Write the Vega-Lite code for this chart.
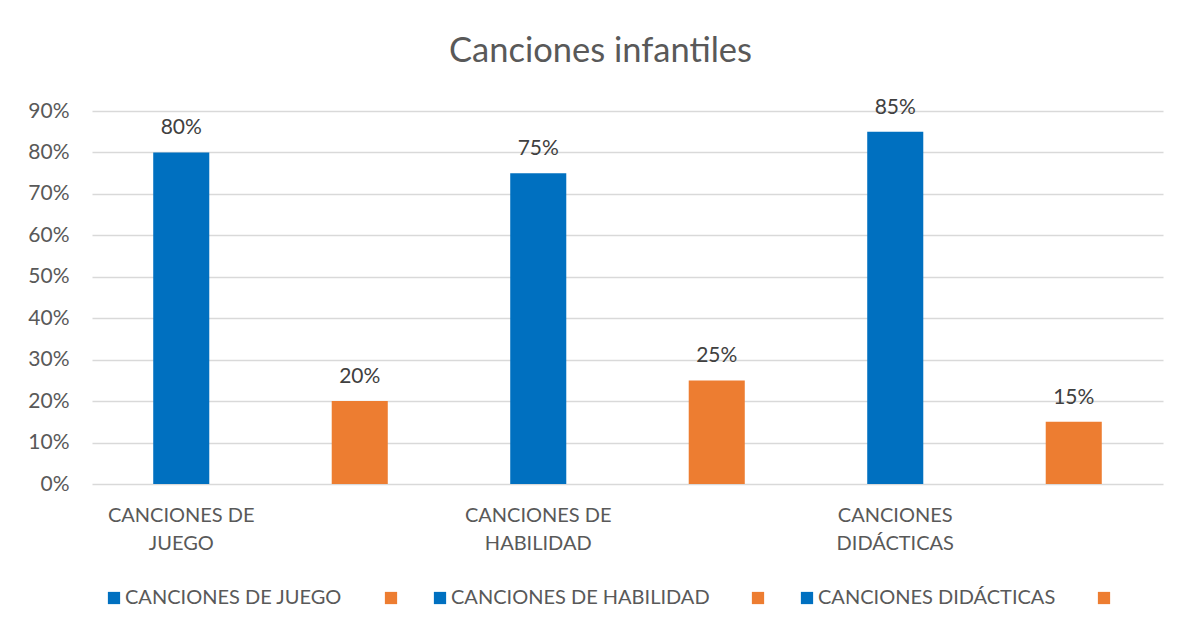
{
  "$schema": "https://vega.github.io/schema/vega-lite/v6.json",
  "width": 1071,
  "height": 373,
  "autosize": "none",
  "padding": {"left": 92, "top": 111, "right": 14, "bottom": 145},
  "background": "white",
  "config": {
    "font": "Lato",
    "view": {"stroke": null},
    "axis": {"labelColor": "#595959", "labelFont": "Lato", "gridColor": "#d9d9d9", "gridWidth": 1.5, "domain": false, "ticks": false, "title": null}
  },
  "title": {"text": "Canciones infantiles", "fontSize": 34.5, "font": "Lato", "fontWeight": "normal", "color": "#595959", "anchor": "middle", "frame": "group", "dx": -27, "offset": 27},
  "data": {
    "values": [
      {"k": "CANCIONES DE|JUEGO", "v": 0.80},
      {"k": " ", "v": 0.20},
      {"k": "CANCIONES DE|HABILIDAD", "v": 0.75},
      {"k": "  ", "v": 0.25},
      {"k": "CANCIONES|DIDÁCTICAS", "v": 0.85},
      {"k": "   ", "v": 0.15}
    ]
  },
  "encoding": {
    "x": {
      "field": "k", "type": "nominal", "sort": null,
      "scale": {"paddingInner": 0.686, "paddingOuter": 0.343},
      "axis": {"labelAngle": 0, "labelFontSize": 20, "labelPadding": 21, "labelLineHeight": 28, "labelBaseline": "top", "labelExpr": "split(datum.label, '|')", "grid": false}
    },
    "y": {
      "field": "v", "type": "quantitative",
      "scale": {"domain": [0, 0.9], "nice": false},
      "axis": {"format": ".0%", "values": [0, 0.1, 0.2, 0.3, 0.4, 0.5, 0.6, 0.7, 0.8, 0.9], "labelFontSize": 21, "labelPadding": 23, "grid": true}
    }
  },
  "layer": [
    {
      "mark": {"type": "bar"},
      "encoding": {
        "color": {
          "field": "k", "type": "nominal",
          "scale": {"domain": ["CANCIONES DE|JUEGO", " ", "CANCIONES DE|HABILIDAD", "  ", "CANCIONES|DIDÁCTICAS", "   "], "range": ["#0070c0", "#ed7d31", "#0070c0", "#ed7d31", "#0070c0", "#ed7d31"]},
          "legend": {"orient": "none", "legendX": 12, "legendY": 477, "direction": "horizontal", "title": null, "symbolType": "square", "symbolSize": 150, "symbolStrokeWidth": 0, "labelFontSize": 20, "labelColor": "#595959", "labelFont": "Lato", "labelOffset": 1, "columnPadding": 28, "padding": 0, "labelExpr": "length(trim(datum.label)) > 0 ? replace(datum.label, '|', ' ') + '\u00a0\u00a0\u200b' : ''", "labelLimit": 400}
        }
      }
    },
    {
      "mark": {"type": "text", "baseline": "bottom", "dy": -14, "fontSize": 21, "color": "#404040", "font": "Lato"},
      "encoding": {"text": {"field": "v", "type": "quantitative", "format": ".0%"}}
    }
  ]
}
